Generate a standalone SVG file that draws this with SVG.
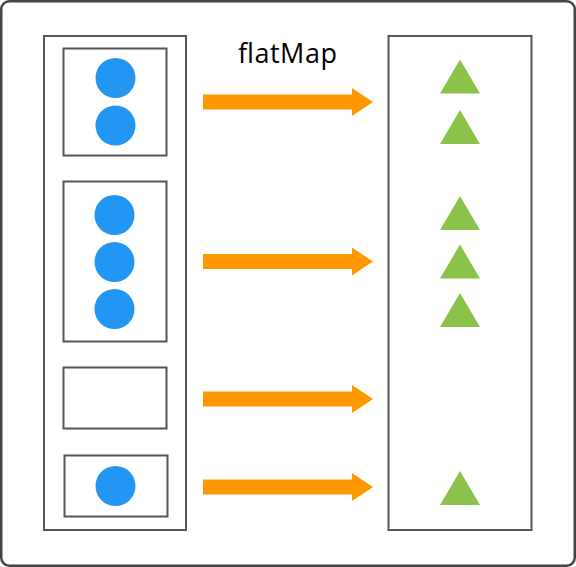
<svg xmlns="http://www.w3.org/2000/svg" width="576" height="567" viewBox="0 0 576 567">
<style>
.frame{fill:#fff;stroke:#444;stroke-width:2.5}
.box{fill:#fff;stroke:#555;stroke-width:2}
.dot{fill:#2196F3}
.tri{fill:#8BC34A}
.arrow{fill:#FF9800}
.label{font-family:"Open Sans","Liberation Sans",sans-serif;font-size:27px;fill:#000}
</style>
<defs>
<path id="arr" d="M0,-7.5 H149 V-14 L170,0 L149,14 V7.5 H0 Z"/>
<path id="tri" d="M0,0 L20,34 H-20 Z"/>
</defs>
<rect class="frame" x="1.25" y="1.25" width="573.5" height="564.5" rx="8"/>
<g id="source">
<rect class="box" x="44" y="36" width="142" height="494"/>
</g>
<g id="group1">
<rect class="box" x="63.5" y="48.5" width="103" height="107"/>
<circle class="dot" cx="115.5" cy="78" r="20"/>
<circle class="dot" cx="115.5" cy="125.5" r="20"/>
</g>
<g id="group2">
<rect class="box" x="63.5" y="181.5" width="103" height="160"/>
<circle class="dot" cx="114.5" cy="215" r="20"/>
<circle class="dot" cx="114.5" cy="262" r="20"/>
<circle class="dot" cx="114.5" cy="309" r="20"/>
</g>
<g id="group3">
<rect class="box" x="63.5" y="367.5" width="103" height="61"/>
</g>
<g id="group4">
<rect class="box" x="64.5" y="455.5" width="103" height="61"/>
<circle class="dot" cx="115.5" cy="486" r="20"/>
</g>
<g id="result">
<rect class="box" x="388.5" y="36" width="143" height="494"/>
<use href="#tri" class="tri" x="460" y="59.5"/>
<use href="#tri" class="tri" x="460" y="110"/>
<use href="#tri" class="tri" x="460" y="196"/>
<use href="#tri" class="tri" x="460" y="244.5"/>
<use href="#tri" class="tri" x="460" y="293"/>
<use href="#tri" class="tri" x="460" y="471"/>
</g>
<g id="connectors">
<use href="#arr" class="arrow" x="203" y="102"/>
<use href="#arr" class="arrow" x="203" y="261.5"/>
<use href="#arr" class="arrow" x="203" y="399"/>
<use href="#arr" class="arrow" x="203" y="487"/>
</g>
<text class="label" x="238" y="62.5" textLength="99">flatMap</text>
</svg>
